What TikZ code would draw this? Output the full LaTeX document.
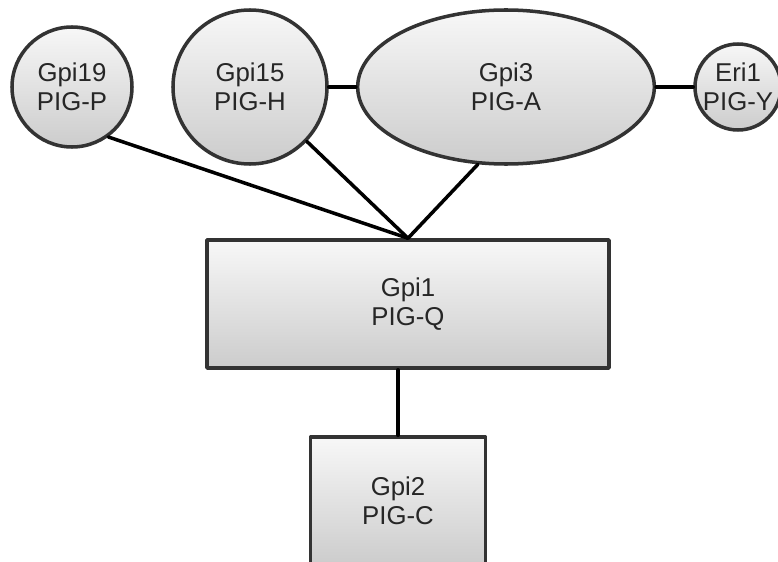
\documentclass[tikz,border=0pt]{standalone}
\usepackage{fontspec}
\setmainfont{Liberation Sans}
\usetikzlibrary{shapes.geometric}
\tikzstyle{every node}=[font=\fontsize{22}{25}\selectfont,align=center,text=black!85]
\tikzstyle{protein}=[draw=black!80,top color=gray!6,bottom color=gray!40,inner sep=0pt]
\begin{document}
\begin{tikzpicture}[x=0.03cm,y=-0.03cm,line width=3pt,line cap=round,line join=round]
\clip (0,0) rectangle (778,562);
\node[protein,circle,minimum size=3.6cm] (gpi19) at (72,87) {Gpi19\\PIG-P};
\node[protein,circle,minimum size=4.62cm] (gpi15) at (250,87) {Gpi15\\PIG-H};
\node[protein,ellipse,minimum width=8.9cm,minimum height=4.62cm] (gpi3) at (506,87) {Gpi3\\PIG-A};
\node[protein,circle,minimum size=2.58cm] (eri1) at (738,87) {Eri1\\PIG-Y};
\node[protein,minimum width=12.06cm,minimum height=3.84cm] (gpi1) at (408,304) {Gpi1\\PIG-Q};
\node[protein,minimum width=5.25cm,minimum height=3.84cm] (gpi2) at (398,501) {Gpi2\\PIG-C};
\draw (gpi15) -- (gpi3);
\draw (gpi3) -- (eri1);
\draw (gpi19.-54) -- (gpi1.north);
\draw (gpi15) -- (gpi1.north);
\draw (gpi3.250) -- (gpi1.north);
\draw (gpi1.south -| gpi2) -- (gpi2.north);
\end{tikzpicture}
\end{document}
